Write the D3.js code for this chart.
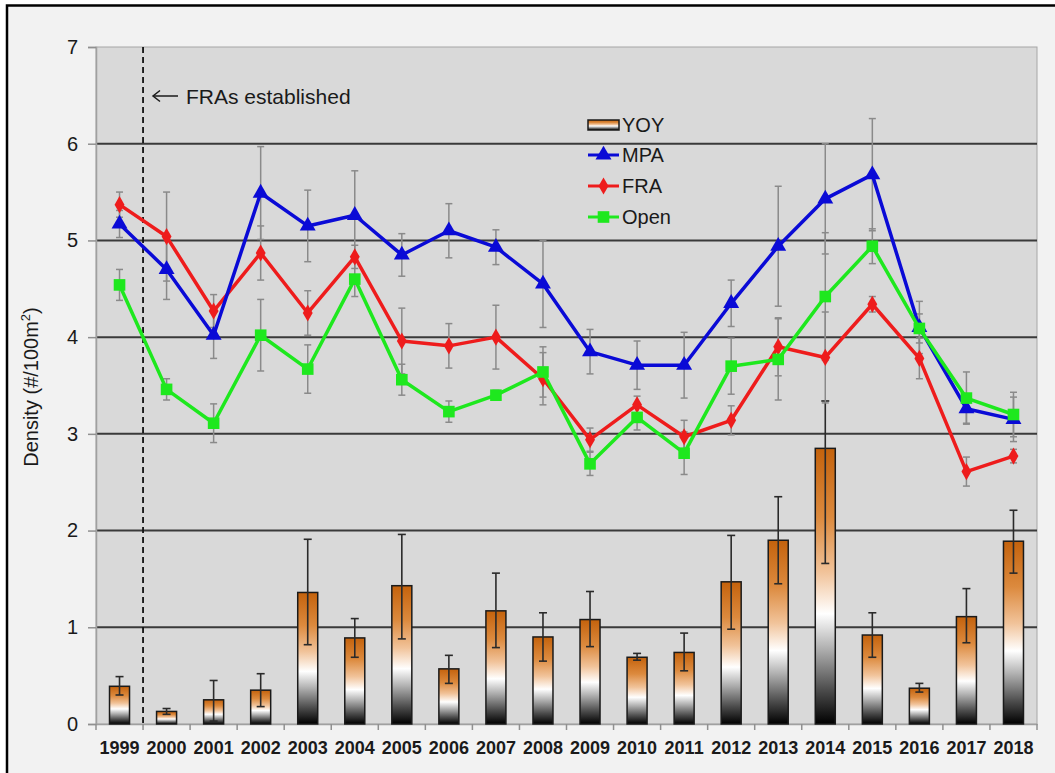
<!DOCTYPE html>
<html><head><meta charset="utf-8">
<script src="https://cdn.jsdelivr.net/npm/d3@7"></script>
<style>html,body{margin:0;padding:0;background:#fff;}svg{display:block;font-family:"Liberation Sans",Arial,sans-serif;}</style>
</head><body><svg id="c" width="1055" height="773"></svg>
<script>
const years = ["1999","2000","2001","2002","2003","2004","2005","2006","2007","2008","2009","2010","2011","2012","2013","2014","2015","2016","2017","2018"];
const yoy     = [0.39,0.13,0.25,0.35,1.36,0.89,1.43,0.57,1.17,0.90,1.08,0.69,0.74,1.47,1.90,2.85,0.92,0.37,1.11,1.89];
const yoyLow  = [0.30,0.10,0.03,0.18,0.82,0.69,0.88,0.42,0.79,0.65,0.80,0.66,0.55,0.98,1.45,1.66,0.69,0.33,0.84,1.56];
const yoyHigh = [0.49,0.16,0.45,0.52,1.91,1.09,1.96,0.71,1.56,1.15,1.37,0.73,0.94,1.95,2.35,3.34,1.15,0.42,1.40,2.21];
const mpa     = [5.17,4.70,4.02,5.49,5.15,5.26,4.85,5.10,4.93,4.55,3.85,3.71,3.71,4.35,4.94,5.43,5.68,4.10,3.26,3.15];
const mpaErr  = [0.14,0.31,0.24,0.48,0.37,0.46,0.22,0.28,0.18,0.45,0.23,0.25,0.34,0.24,0.62,0.57,0.58,0.27,0.15,0.23];
const fra     = [5.37,5.04,4.27,4.87,4.25,4.83,3.96,3.91,4.00,3.57,2.94,3.30,2.97,3.14,3.90,3.79,4.34,3.78,2.61,2.77];
const fraErr  = [0.13,0.46,0.17,0.28,0.23,0.12,0.34,0.23,0.33,0.27,0.12,0.09,0.17,0.15,0.30,0.47,0.08,0.21,0.15,0.07];
const openV   = [4.54,3.46,3.11,4.02,3.67,4.60,3.56,3.23,3.40,3.64,2.69,3.17,2.80,3.70,3.77,4.42,4.94,4.09,3.37,3.20];
const openErr = [0.16,0.11,0.20,0.37,0.25,0.18,0.16,0.11,0.05,0.26,0.12,0.13,0.22,0.29,0.42,0.66,0.18,0.15,0.27,0.23];
const yTicks  = [0,1,2,3,4,5,6,7];
const seriesNames = ["YOY","MPA","FRA","Open"];
const annotation = "FRAs established";
const yTitle = "Density (#/100m";

const svg = d3.select("#c");
const L = 96, R = 1037, T = 47, B = 724;
const x = d3.scaleBand().domain(years).range([L, R]).padding(0);
const y = d3.scaleLinear().domain([0, 7]).range([B, T]);
const cx = d => x(d) + x.bandwidth() / 2;

// outer frame
svg.append("rect").attr("x",0).attr("y",0).attr("width",1055).attr("height",773).attr("fill","#fff");
svg.append("rect").attr("x",7).attr("y",5.5).attr("width",1100).attr("height",800)
  .attr("fill","#f2f2f2").attr("stroke","#000").attr("stroke-width",2.5);

// gradient
const defs = svg.append("defs");
const g1 = defs.append("linearGradient").attr("id","barg").attr("x1",0).attr("y1",0).attr("x2",0).attr("y2",1);
[[0,"#c4620c"],[0.25,"#dc8a3e"],[0.45,"#f1c39a"],[0.6,"#ffffff"],[0.72,"#b4b4b4"],[0.88,"#4a4a4a"],[1,"#000000"]]
  .forEach(s => g1.append("stop").attr("offset",s[0]).attr("stop-color",s[1]));

// plot area
svg.append("rect").attr("x",L).attr("y",T).attr("width",R-L).attr("height",B-T)
  .attr("fill","#d9d9d9").attr("stroke","#a6a6a6").attr("stroke-width",1);

// grid lines
svg.append("g").selectAll("line").data(yTicks.filter(t => t > 0 && t < 7)).join("line")
  .attr("x1",L).attr("x2",R).attr("y1",d=>y(d)).attr("y2",d=>y(d))
  .attr("stroke","#3a3a3a").attr("stroke-width",2);

// y axis
const yAxis = svg.append("g").attr("transform",`translate(${L},0)`)
  .call(d3.axisLeft(y).tickValues(yTicks).tickSize(8).tickPadding(10).tickFormat(d3.format("d")));
yAxis.select(".domain").attr("stroke","#a0a0a0").attr("stroke-width",1.5);
yAxis.selectAll(".tick line").attr("stroke","#909090").attr("stroke-width",1.5);
yAxis.selectAll(".tick text").attr("font-size",20).attr("fill","#1a1a1a")
  .attr("font-family","'Liberation Sans',Arial,sans-serif");

// x axis
const xAxis = svg.append("g").attr("transform",`translate(0,${B})`)
  .call(d3.axisBottom(x).tickSize(0).tickPadding(17));
xAxis.select(".domain").attr("stroke","#a0a0a0").attr("stroke-width",1.5);
xAxis.selectAll(".tick text").attr("font-size",18).attr("font-weight","bold").attr("fill","#1a1a1a")
  .attr("font-family","'Liberation Sans',Arial,sans-serif");
svg.append("g").selectAll("line").data(d3.range(years.length + 1)).join("line")
  .attr("x1",i => L + i * x.bandwidth()).attr("x2",i => L + i * x.bandwidth())
  .attr("y1",B).attr("y2",B + 6).attr("stroke","#909090").attr("stroke-width",1.5);

// y title
const yt = svg.append("text").attr("transform","translate(38,387) rotate(-90)")
  .attr("text-anchor","middle").attr("font-size",20).attr("fill","#1a1a1a");
yt.append("tspan").text(yTitle);
yt.append("tspan").attr("font-size",13).attr("dy",-8).text("2");
yt.append("tspan").attr("dy",8).text(")");

// bars
const bw = 20;
svg.append("g").selectAll("rect").data(years).join("rect")
  .attr("x",(d)=>cx(d)-bw/2).attr("width",bw)
  .attr("y",(d,i)=>y(yoy[i])).attr("height",(d,i)=>B - y(yoy[i]))
  .attr("fill","url(#barg)").attr("stroke","#1a1a1a").attr("stroke-width",1.5);

// bar error bars
const be = svg.append("g").attr("stroke","#2a2a2a").attr("stroke-width",1.6);
years.forEach((d,i) => {
  const c = cx(d);
  be.append("line").attr("x1",c).attr("x2",c).attr("y1",y(yoyLow[i])).attr("y2",y(yoyHigh[i]));
  be.append("line").attr("x1",c-4).attr("x2",c+4).attr("y1",y(yoyLow[i])).attr("y2",y(yoyLow[i]));
  be.append("line").attr("x1",c-4).attr("x2",c+4).attr("y1",y(yoyHigh[i])).attr("y2",y(yoyHigh[i]));
});

// dashed line + annotation
svg.append("line").attr("x1",L + x.bandwidth()).attr("x2",L + x.bandwidth()).attr("y1",T).attr("y2",B)
  .attr("stroke","#111").attr("stroke-width",1.8).attr("stroke-dasharray","6,4");
const ar = svg.append("g").attr("stroke","#1a1a1a").attr("stroke-width",1.5).attr("fill","none");
ar.append("line").attr("x1",153).attr("x2",178).attr("y1",96).attr("y2",96);
ar.append("path").attr("d","M160,90.5 L153,96 L160,101.5");
svg.append("text").attr("x",186).attr("y",104).attr("font-size",21).attr("fill","#1a1a1a")
  .text(annotation);

// line series
const series = [
  {name:"FRA", v:fra, e:fraErr, color:"#ee1c1c", sym:d3.symbolDiamond, size:85},
  {name:"MPA", v:mpa, e:mpaErr, color:"#0a0ad6", sym:d3.symbolTriangle, size:110},
  {name:"Open", v:openV, e:openErr, color:"#1ee81e", sym:d3.symbolSquare, size:135}
];
// error bars (behind all lines)
const le = svg.append("g").attr("stroke","#8a8a8a").attr("stroke-width",1.5);
series.forEach(s => {
  years.forEach((d,i) => {
    const c = cx(d), lo = y(s.v[i]-s.e[i]), hi = y(s.v[i]+s.e[i]);
    le.append("line").attr("x1",c).attr("x2",c).attr("y1",lo).attr("y2",hi);
    le.append("line").attr("x1",c-3.5).attr("x2",c+3.5).attr("y1",lo).attr("y2",lo);
    le.append("line").attr("x1",c-3.5).attr("x2",c+3.5).attr("y1",hi).attr("y2",hi);
  });
});
const line = d3.line().x((d,i)=>cx(years[i])).y(d=>y(d));
series.forEach(s => {
  svg.append("path").datum(s.v).attr("d",line).attr("fill","none")
    .attr("stroke",s.color).attr("stroke-width",3.5).attr("stroke-linejoin","round");
  svg.append("g").selectAll("path").data(s.v).join("path")
    .attr("transform",(d,i)=>`translate(${cx(years[i])},${y(d)})`)
    .attr("d",d3.symbol().type(s.sym).size(s.size)).attr("fill",s.color);
});

// legend
const lg = svg.append("g");
const lx = 588, ly = [125, 155, 186, 217];
lg.append("rect").attr("x",lx).attr("y",ly[0]-5).attr("width",31).attr("height",10)
  .attr("fill","url(#barg)").attr("stroke","#1a1a1a").attr("stroke-width",1.5);
const legSeries = [series[1], series[0], series[2]];
legSeries.forEach((s,k) => {
  const yy = ly[k+1];
  lg.append("line").attr("x1",lx).attr("x2",lx+31).attr("y1",yy).attr("y2",yy)
    .attr("stroke",s.color).attr("stroke-width",3);
  lg.append("path").attr("transform",`translate(${lx+15.5},${yy})`)
    .attr("d",d3.symbol().type(s.sym).size(s.size)).attr("fill",s.color);
});
seriesNames.forEach((n,k) => {
  lg.append("text").attr("x",lx+34).attr("y",ly[k]+7).attr("font-size",20).attr("fill","#1a1a1a").text(n);
});
</script></body></html>
